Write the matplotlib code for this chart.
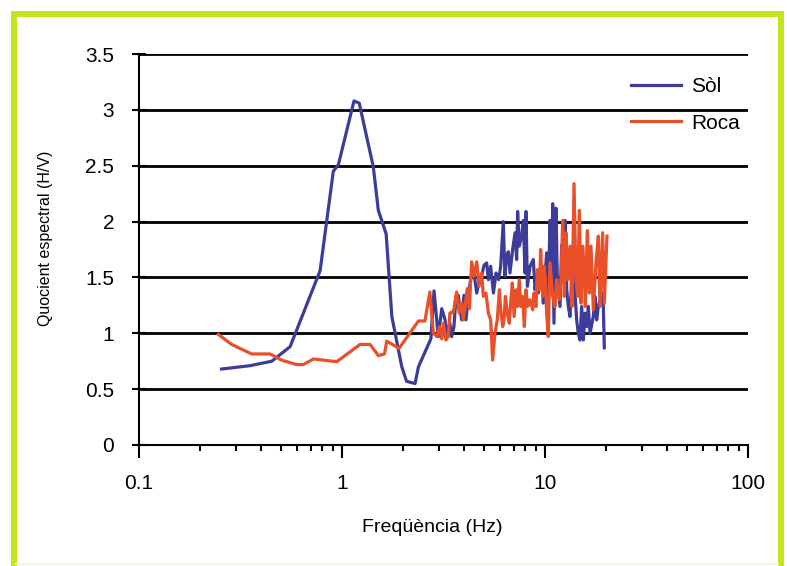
import numpy as np
import matplotlib
matplotlib.use("Agg")
import matplotlib.pyplot as plt
from matplotlib.lines import Line2D
from matplotlib.ticker import LogLocator, FixedLocator, NullFormatter

plt.rcParams['font.family'] = ['Liberation Sans', 'DejaVu Sans']

# ---- data ----
freq_sol = [0.255, 0.352, 0.451, 0.555, 0.78, 0.906, 0.96, 1.146, 1.216, 1.426,
            1.51, 1.65, 1.76, 1.97, 2.08, 2.29, 2.38, 2.74, 2.84,
            2.98, 3.10, 3.22, 3.28, 3.40, 3.47, 3.56, 3.64, 3.74, 3.81,
            3.89, 3.99, 4.08, 4.19, 4.30, 4.44, 4.61, 4.75, 4.88, 5.01,
            5.16, 5.26, 5.40, 5.57, 5.74, 5.91, 6.05, 6.23, 6.35, 6.47,
            6.60, 6.72, 6.93, 7.12, 7.25, 7.33, 7.47, 7.67, 7.82, 7.97,
            8.06, 8.19, 8.44, 8.76, 8.93, 9.10, 9.27, 9.45, 9.63, 9.81,
            10.0, 10.19, 10.38, 10.58, 10.79, 10.91, 11.07, 11.33, 11.50, 11.86,
            12.08, 12.31, 12.55, 12.79, 13.03, 13.28, 13.53, 13.79, 14.05, 14.32,
            14.59, 14.87, 15.16, 15.45, 15.74, 16.04, 16.35, 16.66, 17.30, 17.63,
            17.97, 18.31, 18.66, 19.01, 19.38, 19.6]
hv_sol = [0.68, 0.71, 0.75, 0.88, 1.56, 2.45, 2.51, 3.08, 3.06, 2.49,
          2.10, 1.89, 1.15, 0.70, 0.57, 0.55, 0.70, 0.95, 1.38,
          0.97, 1.22, 1.12, 1.00, 1.09, 0.97, 1.06, 1.31, 1.34, 1.21,
          1.12, 1.34, 1.12, 1.34, 1.48, 1.57, 1.36, 1.48, 1.52, 1.61,
          1.63, 1.48, 1.60, 1.36, 1.54, 1.48, 1.60, 2.00, 1.51, 1.69,
          1.73, 1.54, 1.75, 1.90, 1.66, 2.09, 1.78, 1.87, 2.01, 1.54,
          2.09, 1.42, 1.60, 1.66, 1.39, 1.51, 1.36, 1.48, 1.60, 1.27,
          1.51, 1.72, 1.33, 2.01, 1.48, 2.16, 1.09, 2.12, 1.48, 1.24,
          1.79, 1.54, 2.01, 1.39, 1.24, 1.15, 1.48, 1.69, 1.36, 1.12,
          1.00, 0.94, 1.24, 0.94, 1.18, 1.06, 1.24, 1.00, 1.15, 1.33,
          1.12, 1.24, 1.30, 1.36, 1.24, 0.87]

freq_roca = [0.246, 0.286, 0.359, 0.442, 0.504, 0.598, 0.645, 0.723, 0.942, 1.228,
             1.375, 1.51, 1.62, 1.66, 1.91, 2.38, 2.56, 2.71, 2.82, 2.94,
             3.02, 3.10, 3.16, 3.25, 3.34, 3.40, 3.47, 3.53, 3.67, 3.78,
             3.89, 3.96, 4.04, 4.14, 4.24, 4.35, 4.47, 4.61, 4.73, 4.88,
             4.97, 5.12, 5.26, 5.40, 5.52, 5.67, 5.82, 5.96, 6.05, 6.19,
             6.28, 6.38, 6.52, 6.67, 6.77, 6.90, 7.04, 7.20, 7.31, 7.47,
             7.59, 7.76, 7.91, 8.06, 8.22, 8.44, 8.70, 8.83, 9.03, 9.17,
             9.38, 9.52, 9.74, 9.89, 10.04, 10.19, 10.38, 10.58, 10.91, 11.20,
             11.41, 11.77, 11.99, 12.22, 12.45, 12.69, 12.93, 13.28, 13.58, 13.90,
             14.21, 14.48, 14.76, 15.04, 15.33, 15.56, 15.80, 16.16, 16.53, 16.85,
             17.30, 17.83, 18.31, 18.66, 19.23, 19.60, 20.2]
hv_roca = [0.99, 0.90, 0.815, 0.815, 0.76, 0.72, 0.72, 0.77, 0.746, 0.90,
           0.90, 0.80, 0.815, 0.93, 0.865, 1.11, 1.11, 1.37, 1.00, 0.97,
           1.06, 0.95, 1.09, 0.94, 0.97, 1.18, 1.19, 1.18, 1.37, 1.18,
           1.27, 1.12, 1.24, 1.40, 1.22, 1.64, 1.51, 1.64, 1.42, 1.54,
           1.33, 1.36, 1.18, 1.12, 0.76, 1.00, 1.12, 1.39, 1.21, 1.06,
           1.12, 1.33, 1.18, 1.09, 1.27, 1.45, 1.15, 1.39, 1.24, 1.48,
           1.24, 1.33, 1.06, 1.39, 1.24, 1.30, 1.21, 1.36, 1.24, 1.57,
           1.39, 1.75, 1.33, 1.60, 1.48, 1.18, 0.97, 1.63, 1.33, 1.24,
           1.48, 1.30, 1.48, 2.01, 1.33, 1.90, 1.48, 1.78, 1.24, 2.34,
           1.48, 1.33, 2.10, 1.27, 1.78, 1.60, 1.24, 1.92, 1.36, 1.78,
           1.21, 1.63, 1.87, 1.24, 1.90, 1.27, 1.87]

y_ticks = [0, 0.5, 1, 1.5, 2, 2.5, 3, 3.5]
y_ticklabels = ['0', '0.5', '1', '1.5', '2', '2.5', '3', '3.5']
x_ticks = [0.1, 1, 10, 100]
x_ticklabels = ['0.1', '1', '10', '100']

blue = '#3d3d99'
orange = '#e9502a'
green = '#c8e41e'

W, H = 787, 566
fig = plt.figure(figsize=(W / 100, H / 100), dpi=100)
ax = fig.add_axes([139 / W, 1 - 445 / H, (748 - 139) / W, (445 - 54) / H])

ax.plot(freq_sol, hv_sol, color=blue, lw=2.3, label='Sòl', zorder=3)
ax.plot(freq_roca, hv_roca, color=orange, lw=2.3, label='Roca', zorder=3)

ax.set_xscale('log')
ax.set_xlim(0.1, 100)
ax.set_ylim(0, 3.5)

ax.xaxis.set_major_locator(FixedLocator(x_ticks))
ax.set_xticklabels(x_ticklabels)
ax.xaxis.set_minor_locator(LogLocator(base=10, subs=np.arange(2, 10)))
ax.xaxis.set_minor_formatter(NullFormatter())
ax.set_yticks(y_ticks)
ax.set_yticklabels(y_ticklabels)

ax.tick_params(axis='x', which='major', direction='out', length=9, width=1.5,
               pad=12, labelsize=15)
ax.tick_params(axis='x', which='minor', direction='out', length=4.5, width=1.5)
ax.tick_params(axis='y', which='major', direction='inout', length=10, width=1.5,
               pad=13, labelsize=15)

ax.yaxis.grid(True, color='black', lw=2.0, zorder=1)
ax.set_axisbelow(True)
for s in ['top', 'right']:
    ax.spines[s].set_visible(False)
for s in ['left', 'bottom']:
    ax.spines[s].set_linewidth(1.5)

fig.text(432 / W, 1 - 527 / H, 'Freqüència (Hz)', fontsize=14,
         ha='center', va='center')
fig.text(46 / W, 1 - 238 / H, 'Quocient espectral (H/V)', fontsize=11.5,
         rotation=90, ha='center', va='center')

ax.legend(loc='upper left', bbox_to_anchor=(631 / W, 1 - 77 / H),
          bbox_transform=fig.transFigure, frameon=False, fontsize=15,
          handlelength=2.4, handletextpad=0.5, labelspacing=0.85,
          borderpad=0, borderaxespad=0)

# green frame around the chart
lw_frame = 6 * 72 / 100
fig.add_artist(Line2D([13.5 / W, 13.5 / W], [0, 1 - 11 / H], color=green,
                      lw=lw_frame, transform=fig.transFigure, solid_capstyle='butt'))
fig.add_artist(Line2D([780.5 / W, 780.5 / W], [0, 1 - 11 / H], color=green,
                      lw=lw_frame, transform=fig.transFigure, solid_capstyle='butt'))
fig.add_artist(Line2D([10.5 / W, 783.5 / W], [1 - 14 / H, 1 - 14 / H], color=green,
                      lw=lw_frame, transform=fig.transFigure, solid_capstyle='butt'))
fig.add_artist(Line2D([16 / W, 778 / W], [1 - 564 / H, 1 - 564 / H], color='#f1f6dc',
                      lw=1.5, transform=fig.transFigure))

fig.savefig('out.png', dpi=100)
